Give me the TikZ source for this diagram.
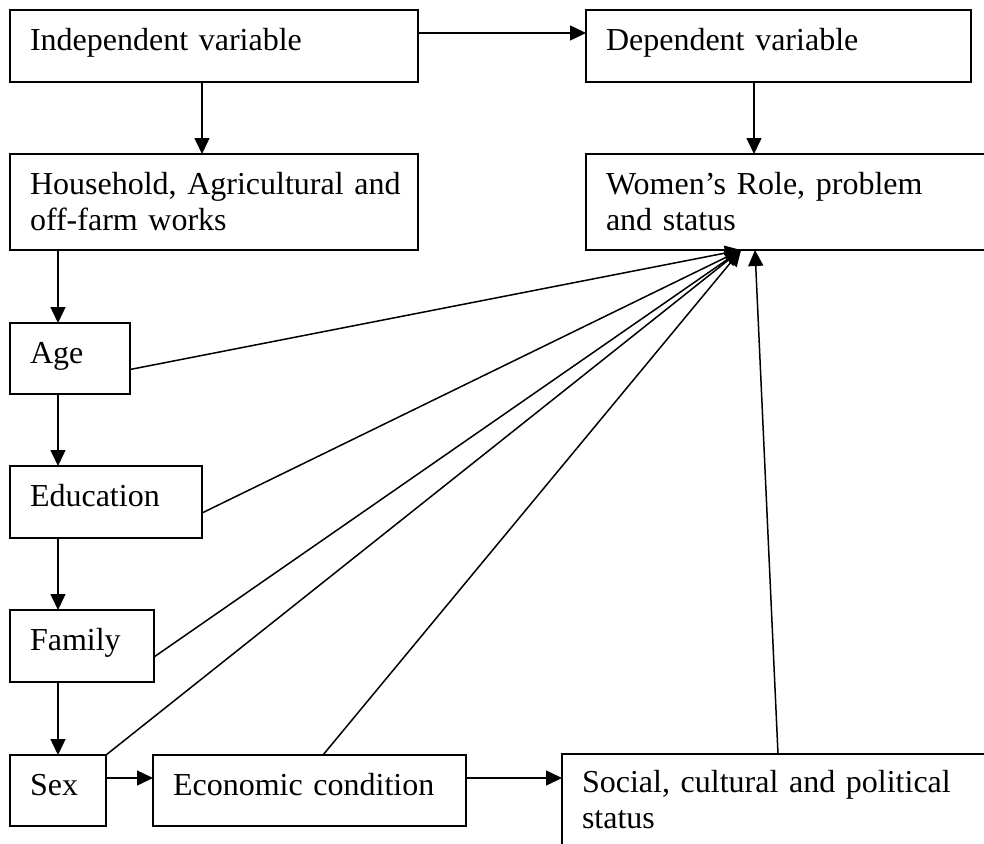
\documentclass[tikz,border=0pt]{standalone}
\usepackage{fontspec}
\setmainfont{Liberation Serif}
\usetikzlibrary{arrows.meta,calc}
\begin{document}
\begin{tikzpicture}[x=1pt,y=-1pt,
  box/.style={draw,line width=1.5pt,rectangle,anchor=north west,outer sep=0pt,
    inner xsep=20pt,inner ysep=0pt,align=left,
    font=\fontsize{32}{36}\selectfont,text height=22pt,text depth=13pt},
  twobox/.style={box,text depth=37pt},
  conn/.style={line width=1.5pt,-{Triangle[length=16pt,width=15pt]}},
  plainline/.style={line width=1.5pt}]
\useasboundingbox (0,0) rectangle (984,843);
\clip (0,0) rectangle (984,843);

\node[box,minimum width=408pt,minimum height=72pt,text width=368pt] (indep) at (10,10) {Independent variable};
\node[box,minimum width=385pt,minimum height=72pt,text width=345pt] (dep) at (586,10) {Dependent variable};
\node[twobox,minimum width=408pt,minimum height=96pt,text width=368pt] (house) at (10,154) {\mbox{Household, Agricultural and}\\off-farm works};
\node[twobox,minimum width=420pt,minimum height=96pt,text width=380pt] (women) at (586,154) {Women’s Role, problem\\and status};
\node[box,minimum width=120pt,minimum height=71pt,text width=80pt] (age) at (10,323) {Age};
\node[box,minimum width=192pt,minimum height=72pt,text width=152pt] (edu) at (10,466) {Education};
\node[box,minimum width=144pt,minimum height=72pt,text width=104pt] (family) at (10,610) {Family};
\node[box,minimum width=96pt,minimum height=71pt,text width=56pt] (sex) at (10,755) {Sex};
\node[box,minimum width=313pt,minimum height=71pt,text width=273pt] (econ) at (153,755) {Economic condition};
\node[twobox,minimum width=440pt,minimum height=92pt,text width=400pt] (social) at (562,754) {Social, cultural and political\\status};

\coordinate (wtip) at ($(women.south west)+(155,0)$);
\coordinate (wtip2) at ($(women.south west)+(169,0)$);

% vertical / horizontal flow
\draw[conn] ($(indep.east)+(0,-13)$) -- ($(dep.west)+(0,-13)$);
\draw[conn] ($(indep.south west)+(192,0)$) -- ($(house.north west)+(192,0)$);
\draw[conn] ($(dep.south west)+(168,0)$) -- ($(women.north west)+(168,0)$);
\draw[conn] ($(house.south west)+(48,0)$) -- ($(age.north west)+(48,0)$);
\draw[conn] ($(age.south west)+(48,0)$) -- ($(edu.north west)+(48,0)$);
\draw[conn] ($(edu.south west)+(48,0)$) -- ($(family.north west)+(48,0)$);
\draw[conn] ($(family.south west)+(48,0)$) -- ($(sex.north west)+(48,0)$);
\draw[conn] ($(sex.east)+(0,-12.5)$) -- ($(econ.west)+(0,-12.5)$);
\draw[conn] ($(econ.east)+(0,-12.5)$) -- ($(social.north west)+(0,24)$);

% converging lines
\draw[conn] ($(age.east)+(0,11)$) -- (wtip);
\draw[conn] ($(edu.east)+(0,11)$) -- (wtip);
\draw[conn] ($(family.east)+(0,11)$) -- (wtip);
\draw[conn] (sex.north east) -- (wtip);
\draw[conn] ($(econ.north)+(13.5,0)$) -- (wtip);
\draw[conn] ($(social.north west)+(216,0)$) -- (wtip2);
\end{tikzpicture}
\end{document}
